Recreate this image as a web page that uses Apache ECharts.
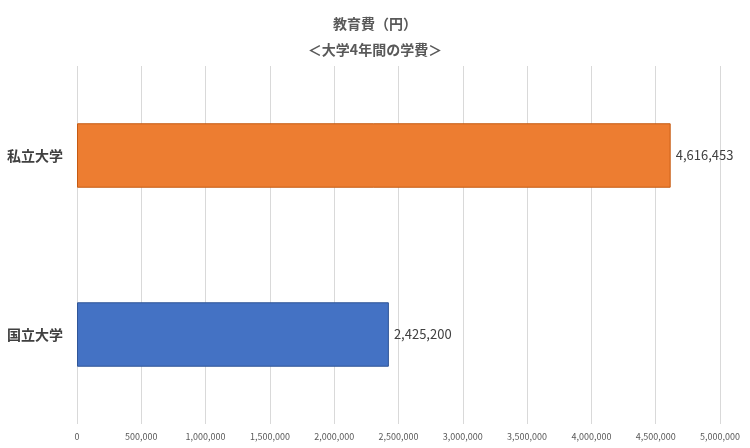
<!DOCTYPE html>
<html>
<head>
<meta charset="utf-8">
<script src="https://cdn.jsdelivr.net/npm/echarts@6/dist/echarts.min.js"></script>
<style>html,body{margin:0;padding:0;background:#fff}#main{width:750px;height:448px}</style>
</head>
<body>
<div id="main"></div>
<script>
const categories = ["国立大学", "私立大学"];
const values = [2425200, 4616453];
const barColors = ["#4472C4", "#ED7D31"];
const borderColors = ["#2F5597", "#C55A11"];

const chart = echarts.init(document.getElementById("main"));
chart.setOption({
    textStyle: { fontFamily: "Noto Sans CJK JP" },
    title: {
        text: "教育費（円）\n＜大学4年間の学費＞",
        left: "center",
        top: 6,
        textStyle: { fontSize: 14, fontWeight: "bold", color: "#595959", lineHeight: 26 },
    },
    grid: { left: 77, right: 30, top: 66, bottom: 24 },
    xAxis: {
        type: "value",
        min: 0,
        max: 5000000,
        interval: 500000,
        axisLine: { show: false },
        axisTick: { show: false },
        splitLine: { lineStyle: { color: "#d9d9d9" } },
        axisLabel: {
            fontSize: 9,
            color: "#595959",
            formatter: (v) => v.toLocaleString("en-US"),
        },
    },
    yAxis: {
        type: "category",
        data: categories,
        axisLine: { show: false },
        axisTick: { show: false },
        axisLabel: { fontSize: 14, fontWeight: "bold", color: "#404040", margin: 14 },
    },
    series: [
        {
            type: "bar",
            barWidth: "36%",
            data: values.map((v, i) => ({
                value: v,
                itemStyle: { color: barColors[i], borderColor: borderColors[i], borderWidth: 1 },
            })),
            label: {
                show: true,
                position: "right",
                fontSize: 13,
                color: "#404040",
                formatter: (p) => p.value.toLocaleString("en-US"),
            },
        },
    ],
});
</script>
</body>
</html>
